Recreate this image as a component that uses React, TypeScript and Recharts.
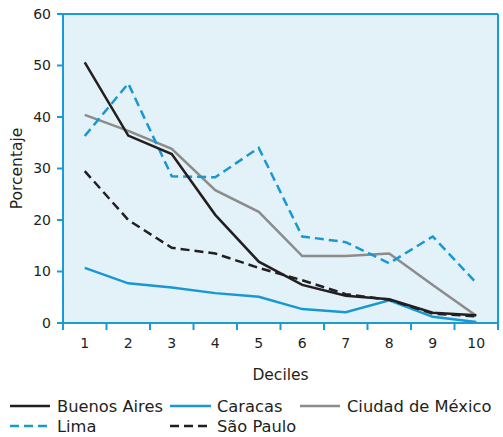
import { LineChart, Line, XAxis, YAxis, CartesianGrid } from 'recharts'

const deciles = ['1', '2', '3', '4', '5', '6', '7', '8', '9', '10']
const buenosAires = [50.6, 36.4, 32.8, 21.0, 11.9, 7.4, 5.3, 4.6, 2.0, 1.5]
const caracas = [10.7, 7.7, 6.9, 5.8, 5.1, 2.7, 2.1, 4.4, 1.2, 0.2]
const ciudadMexico = [40.4, 37.3, 33.8, 25.8, 21.6, 13.0, 13.0, 13.5, 7.4, 1.4]
const lima = [36.3, 46.5, 28.5, 28.3, 34.0, 16.8, 15.7, 11.6, 16.8, 7.8]
const saoPaulo = [29.5, 20.0, 14.6, 13.5, 10.7, 8.3, 5.6, 4.5, 1.8, 1.3]
const yTicks = [0, 10, 20, 30, 40, 50, 60]

const BLUE = '#1898d3'
const BLACK = '#231f20'
const GRAY = '#8c8c8c'
const AXIS = '#1a9ad6'
const FONT = '"DejaVu Sans", Arial, sans-serif'

const data = deciles.map((d, i) => ({
  decile: d,
  buenosAires: buenosAires[i],
  caracas: caracas[i],
  ciudadMexico: ciudadMexico[i],
  lima: lima[i],
  saoPaulo: saoPaulo[i],
}))

const legendRows = [
  [
    { name: 'Buenos Aires', color: BLACK, dash: undefined, x: 10, len: 40 },
    { name: 'Caracas', color: BLUE, dash: undefined, x: 170, len: 41 },
    { name: 'Ciudad de México', color: GRAY, dash: undefined, x: 300, len: 40 },
  ],
  [
    { name: 'Lima', color: BLUE, dash: '9 5', x: 10, len: 37 },
    { name: 'São Paulo', color: BLACK, dash: '9 5', x: 170, len: 37 },
  ],
]

function XTick(props: any) {
  const { x, y, payload, index } = props
  const off = payload.offset ?? 21.75
  const last = index === deciles.length - 1
  return (
    <g>
      <line x1={x - off} x2={x - off} y1={y} y2={y + 7} stroke={AXIS} strokeWidth={2} />
      {last && <line x1={x + off} x2={x + off} y1={y} y2={y + 7} stroke={AXIS} strokeWidth={2} />}
      <text x={x} y={y + 25} textAnchor="middle" fontSize={14} fill={BLACK} fontFamily={FONT}>
        {payload.value}
      </text>
    </g>
  )
}

export default function App() {
  return (
    <div style={{ position: 'absolute', left: 0, top: 0, width: 503, height: 437, background: '#fff', fontFamily: FONT }}>
      <LineChart width={503} height={437} data={data} margin={{ top: 14, right: 5, left: 0, bottom: 54 }}>
        <CartesianGrid
          fill="#e3f1f8"
          stroke={AXIS}
          strokeWidth={2}
          horizontalCoordinatesGenerator={(p: any) => [p.offset.top]}
          verticalCoordinatesGenerator={(p: any) => [p.offset.left + p.offset.width]}
        />
        <XAxis
          dataKey="decile"
          scale="band"
          height={60}
          tickSize={0}
          tickMargin={0}
          tickLine={false}
          axisLine={{ stroke: AXIS, strokeWidth: 2 }}
          tick={<XTick />}
          interval={0}
          label={(p: any) => {
            const vb = p.viewBox
            return (
              <text x={vb.x + vb.width / 2} y={vb.y + 57} textAnchor="middle" fontSize={15.5} fill={BLACK} fontFamily={FONT}>
                Deciles
              </text>
            )
          }}
        />
        <YAxis
          width={63}
          domain={[0, 60]}
          ticks={yTicks}
          tickSize={6}
          tickMargin={6}
          axisLine={{ stroke: AXIS, strokeWidth: 2 }}
          tickLine={{ stroke: AXIS, strokeWidth: 2 }}
          tick={{ fontSize: 14, fill: BLACK, fontFamily: FONT }}
          label={(p: any) => {
            const vb = p.viewBox
            const cy = vb.y + vb.height / 2
            return (
              <text
                x={17}
                y={cy}
                transform={`rotate(-90 17 ${cy})`}
                textAnchor="middle"
                dominantBaseline="central"
                fontSize={15.5}
                fill={BLACK}
                fontFamily={FONT}
              >
                Porcentaje
              </text>
            )
          }}
        />
        <Line dataKey="ciudadMexico" stroke={GRAY} strokeWidth={2.5} dot={false} isAnimationActive={false} />
        <Line dataKey="caracas" stroke={BLUE} strokeWidth={2.5} dot={false} isAnimationActive={false} />
        <Line dataKey="lima" stroke={BLUE} strokeWidth={2.5} strokeDasharray="9 5" dot={false} isAnimationActive={false} />
        <Line dataKey="saoPaulo" stroke={BLACK} strokeWidth={2.5} strokeDasharray="9 5" dot={false} isAnimationActive={false} />
        <Line dataKey="buenosAires" stroke={BLACK} strokeWidth={2.5} dot={false} isAnimationActive={false} />
      </LineChart>
      <svg width={503} height={50} style={{ position: 'absolute', left: 0, top: 390 }}>
        {legendRows.map((row, r) =>
          row.map((it) => {
            const cy = 16 + r * 20
            return (
              <g key={it.name}>
                <line x1={it.x} x2={it.x + it.len} y1={cy} y2={cy} stroke={it.color} strokeWidth={2.5} strokeDasharray={it.dash} />
                <text x={it.x + 47} y={cy} dominantBaseline="central" fontSize={16.3} fill={BLACK} fontFamily={FONT}>
                  {it.name}
                </text>
              </g>
            )
          })
        )}
      </svg>
    </div>
  )
}
